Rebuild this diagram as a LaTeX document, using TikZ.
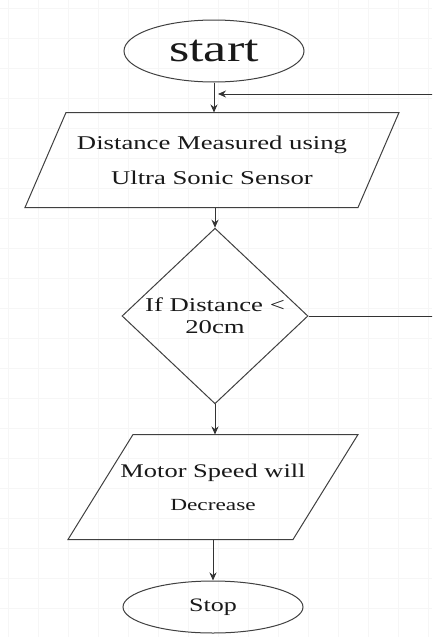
\documentclass[tikz,border=0pt]{standalone}
\usepackage{fontspec}
\setmainfont{Liberation Serif}
\usepackage{graphicx}
\usetikzlibrary{shapes.geometric,arrows.meta,calc}
\newcommand\hs[1]{\scalebox{1.37}[1]{#1}}
\begin{document}
\begin{tikzpicture}[x=1pt,y=-1pt,
  line width=1pt,
  every node/.style={text=black!90},
  gridline/.style={draw=black!3.5, line width=0.5pt},
  term/.style={ellipse, draw=black!75, line width=1pt, minimum width=180pt, inner sep=0pt},
  decis/.style={diamond, draw=black!75, line width=1pt, inner sep=0pt, minimum width=186pt, minimum height=154pt, align=center},
  iobox/.style={draw=none, inner sep=0pt, align=center},
  pgram/.style={draw=black!75, line width=1pt},
  flow/.style={draw=black!80, line width=1pt, -{Stealth[length=8pt,width=7pt]}},
]
\useasboundingbox (0,0) rectangle (432,637);
\clip (0,0) rectangle (432,637);
\fill[white] (0,0) rectangle (432,637);
\foreach \x in {8,38,...,428} \draw[gridline] (\x,0) -- (\x,637);
\foreach \y in {8,38,...,632} \draw[gridline] (0,\y) -- (432,\y);

% start
\node[term, minimum height=62pt, font=\fontsize{38}{40}\selectfont] (start) at (214,51) {\hs{start}};

% measurement parallelogram
\node[iobox, minimum width=332pt, minimum height=94pt, font=\fontsize{19.5}{35}\selectfont] (meas) at (212,160)
  {\hs{Distance Measured using}\\\hs{Ultra Sonic Sensor}};
\draw[pgram] ($(meas.north west)+(20.5,0)$) -- ($(meas.north east)+(20.5,0)$)
  -- ($(meas.south east)+(-20.5,0)$) -- ($(meas.south west)+(-20.5,0)$) -- cycle;

% decision
\node[decis, font=\fontsize{19.5}{22}\selectfont] (cond) at (215,316) {\hs{If Distance <}\\\hs{20cm}};

% motor parallelogram
\node[iobox, minimum width=224pt, minimum height=104pt, font=\fontsize{19.3}{33}\selectfont] (motor) at (213,487)
  {\hs{Motor Speed will}\\{\fontsize{17}{33}\selectfont\hs{Decrease}}};
\draw[pgram] ($(motor.north west)+(32.5,0)$) -- ($(motor.north east)+(32.5,0)$)
  -- ($(motor.south east)+(-32.5,0)$) -- ($(motor.south west)+(-32.5,0)$) -- cycle;

% stop
\node[term, minimum height=52pt, font=\fontsize{19}{22}\selectfont] (stop) at (213,607) {\hs{Stop}};

% connectors
\coordinate (loopend) at (218,94);
\draw[flow] (start.south) -- (start.south |- meas.north);
\draw[flow] (cond.north |- meas.south) -- (cond.north);
\draw[flow] (cond.south) -- (cond.south |- motor.north);
\draw[flow] (motor.south) -- (motor.south |- stop.north);
\draw[flow] (cond.east) -- ++(200,0) |- (loopend);
\end{tikzpicture}
\end{document}
